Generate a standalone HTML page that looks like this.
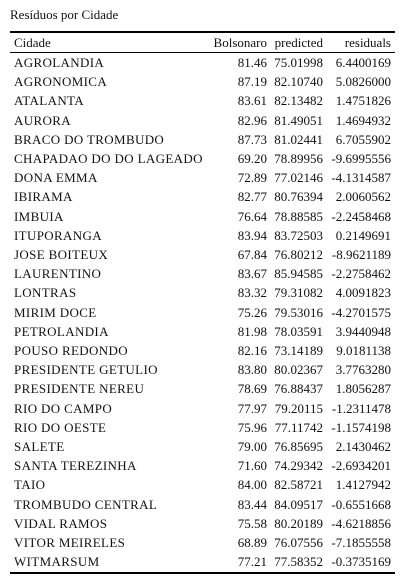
<!DOCTYPE html>
<html><head><meta charset="utf-8"><style>
body{margin:0;width:410px;height:582px;background:#fff;font-family:"Liberation Serif",serif;color:#111;position:relative;overflow:hidden}
.t{position:absolute;font-size:13px;line-height:16px;white-space:nowrap}
.r{text-align:right}
.c{letter-spacing:0.35px}
.rule{position:absolute;left:10px;width:385px;background:#000}
</style></head><body>
<div class="t" style="left:10px;top:7px;font-size:13px">Resíduos por Cidade</div>
<div class="rule" style="top:31px;height:2px"></div>
<div class="t" style="left:14px;top:35px">Cidade</div>
<div class="t r" style="right:143px;top:35px">Bolsonaro</div>
<div class="t r" style="right:87px;top:35px">predicted</div>
<div class="t r" style="right:19px;top:35px">residuals</div>
<div class="rule" style="top:52px;height:1px"></div>
<div id="rows"></div>
<div class="rule" style="top:572px;height:2px"></div>
<script>
const cities=["AGROLANDIA","AGRONOMICA","ATALANTA","AURORA","BRACO DO TROMBUDO","CHAPADAO DO DO LAGEADO","DONA EMMA","IBIRAMA","IMBUIA","ITUPORANGA","JOSE BOITEUX","LAURENTINO","LONTRAS","MIRIM DOCE","PETROLANDIA","POUSO REDONDO","PRESIDENTE GETULIO","PRESIDENTE NEREU","RIO DO CAMPO","RIO DO OESTE","SALETE","SANTA TEREZINHA","TAIO","TROMBUDO CENTRAL","VIDAL RAMOS","VITOR MEIRELES","WITMARSUM"];
const bolsonaro=["81.46","87.19","83.61","82.96","87.73","69.20","72.89","82.77","76.64","83.94","67.84","83.67","83.32","75.26","81.98","82.16","83.80","78.69","77.97","75.96","79.00","71.60","84.00","83.44","75.58","68.89","77.21"];
const predicted=["75.01998","82.10740","82.13482","81.49051","81.02441","78.89956","77.02146","80.76394","78.88585","83.72503","76.80212","85.94585","79.31082","79.53016","78.03591","73.14189","80.02367","76.88437","79.20115","77.11742","76.85695","74.29342","82.58721","84.09517","80.20189","76.07556","77.58352"];
const residuals=["6.4400169","5.0826000","1.4751826","1.4694932","6.7055902","-9.6995556","-4.1314587","2.0060562","-2.2458468","0.2149691","-8.9621189","-2.2758462","4.0091823","-4.2701575","3.9440948","9.0181138","3.7763280","1.8056287","-1.2311478","-1.1574198","2.1430462","-2.6934201","1.4127942","-0.6551668","-4.6218856","-7.1855558","-0.3735169"];
const box=document.getElementById('rows');
cities.forEach((c,i)=>{
  const top=55+i*19.2;
  const cols=[[c,'left:14px','row-cidade'],[bolsonaro[i],'right:143px','row-bolsonaro'],[predicted[i],'right:87px','row-predicted'],[residuals[i],'right:19px','row-residuals']];
  cols.forEach(([txt,pos,name],j)=>{
    const d=document.createElement('div');
    d.className='t'+(j?' r':' c');
    d.style.cssText=pos+';top:'+top+'px';
    d.textContent=txt;
    
    
    box.appendChild(d);
  });
});
</script>
</body></html>
